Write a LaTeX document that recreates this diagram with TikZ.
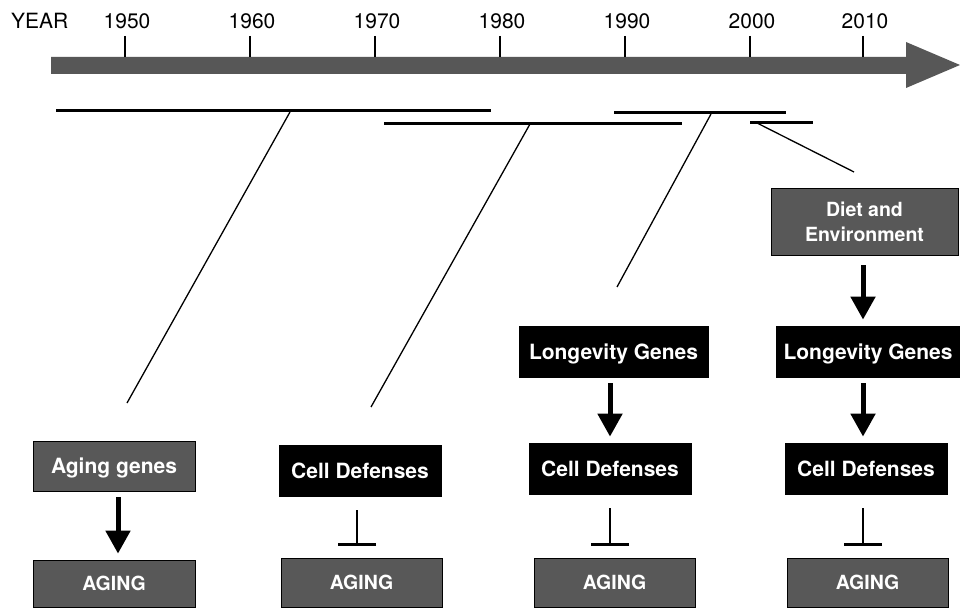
\documentclass[tikz,border=0pt]{standalone}
\usepackage{fontspec}
\setmainfont{TeX Gyre Heros}
\usetikzlibrary{arrows.meta}
\definecolor{boxgray}{HTML}{585858}
\definecolor{axisgray}{HTML}{575757}
\begin{document}
\begin{tikzpicture}[x=1pt,y=-1pt,
  box/.style={draw=black, line width=0.8pt, inner sep=0pt, text=white,
    font=\fontsize{21}{24}\selectfont\bfseries, text height=15pt, text depth=0pt},
  graybox/.style={box, fill=boxgray},
  blackbox/.style={box, fill=black},
  agingtxt/.style={font=\fontsize{19.5}{24}\selectfont\bfseries, text height=14pt},
  yearlbl/.style={font=\fontsize{21}{24}\selectfont, inner sep=0pt, text height=15pt, text depth=0pt},
  bigarrow/.style={line width=5pt, -{Triangle[width=24pt,length=23pt]}, shorten <=6pt, shorten >=6pt},
  inhib/.style={line width=2pt, -{Bar[width=38pt,line width=3pt]}, shorten <=14pt, shorten >=12pt},
  period/.style={line width=3pt},
  pointer/.style={line width=1.3pt}
]
\useasboundingbox (0,0) rectangle (960,609);
\fill[white] (0,0) rectangle (960,609);

% timeline arrow
\fill[axisgray] (51,57) -- (906,57) -- (906,42) -- (960,65) -- (906,88) -- (906,74) -- (51,74) -- cycle;
\node[yearlbl, anchor=west] (year) at (11,21) {YEAR};
\foreach \x/\y in {125/1950,250/1960,375/1970,500/1980,625/1990,750/2000,863/2010}{
  \draw[line width=1.2pt] (\x,36) -- (\x,57);
  \node[yearlbl] (y\y) at (\x+2,21) {\y};
}

% period bars
\coordinate (p1a) at (56,111);  \coordinate (p1b) at (491,111);
\coordinate (p2a) at (384,124); \coordinate (p2b) at (682,124);
\coordinate (p3a) at (614,113); \coordinate (p3b) at (786,113);
\coordinate (p4a) at (750,123); \coordinate (p4b) at (813,123);
\draw[period] (p1a) -- (p1b);
\draw[period] (p2a) -- (p2b);
\draw[period] (p3a) -- (p3b);
\draw[period] (p4a) -- (p4b);

% pointers
\coordinate (q1a) at (290,112); \coordinate (q1b) at (127,403);
\coordinate (q2a) at (530,124); \coordinate (q2b) at (371,407);
\coordinate (q3a) at (711,114); \coordinate (q3b) at (617,287);
\coordinate (q4a) at (757,123); \coordinate (q4b) at (854,172);
\draw[pointer] (q1a) -- (q1b);
\draw[pointer] (q2a) -- (q2b);
\draw[pointer] (q3a) -- (q3b);
\draw[pointer] (q4a) -- (q4b);

% column 1
\node[graybox, minimum width=162pt, minimum height=50pt] (ag) at (114,466) {Aging genes};
\node[graybox, agingtxt, minimum width=162pt, minimum height=47pt] (a1) at (114,583.5) {AGING};
\draw[bigarrow] ([xshift=4pt]ag.south) -- ([xshift=4pt]a1.north);

% column 2
\node[blackbox, minimum width=162pt, minimum height=51pt] (cd2) at (360,470.5) {Cell Defenses};
\node[graybox, agingtxt, minimum width=161pt, minimum height=49pt] (a2) at (361.5,582.5) {AGING};
\draw[inhib] ([xshift=-3pt]cd2.south) -- ([xshift=-4.5pt]a2.north);

% column 3
\node[blackbox, minimum width=189pt, minimum height=51pt] (lg3) at (613.5,351.5) {Longevity Genes};
\node[blackbox, minimum width=162pt, minimum height=51pt] (cd3) at (610,468.5) {Cell Defenses};
\node[graybox, agingtxt, minimum width=161pt, minimum height=49pt] (a3) at (614.5,582.5) {AGING};
\draw[bigarrow] (lg3.south -| cd3.north) -- (cd3.north);
\draw[inhib] (cd3.south) -- (a3.north -| cd3.south);

% column 4
\node[graybox, minimum width=187pt, minimum height=67pt, align=center, text height=, text depth=,
  font=\fontsize{19.5}{25}\selectfont\bfseries] (de) at (864.5,221.5) {Diet and\\Environment};
\node[blackbox, minimum width=183pt, minimum height=51pt] (lg4) at (868,351.5) {Longevity Genes};
\node[blackbox, minimum width=162pt, minimum height=51pt] (cd4) at (866,468.5) {Cell Defenses};
\node[graybox, agingtxt, minimum width=161pt, minimum height=49pt] (a4) at (867.5,582.5) {AGING};
\draw[bigarrow, shorten <=10pt] ([xshift=-1.5pt]de.south) -- ([xshift=-5pt]lg4.north);
\draw[bigarrow] ([xshift=-5pt]lg4.south) -- ([xshift=-3pt]cd4.north);
\draw[inhib] ([xshift=-3pt]cd4.south) -- ([xshift=-4.5pt]a4.north);
\end{tikzpicture}
\end{document}
